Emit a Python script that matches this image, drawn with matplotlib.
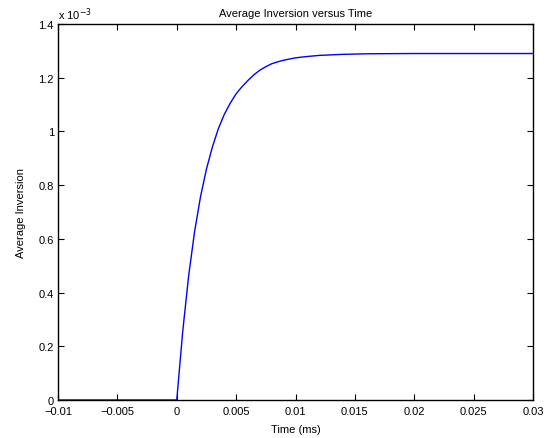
import numpy as np
import matplotlib.pyplot as plt
from matplotlib.ticker import FuncFormatter

# time axis in ms, inversion read in units of 1e-3
time_ms = [-0.01, 0.0, 0.0005, 0.001, 0.0015, 0.002, 0.0025, 0.003, 0.0035,
           0.004, 0.0045, 0.005, 0.0055, 0.006, 0.0065, 0.007, 0.0075, 0.008,
           0.0085, 0.009, 0.010, 0.011, 0.012, 0.013, 0.014, 0.016, 0.020,
           0.025, 0.030]
inv_e3 = [0, 0, 0.255, 0.462, 0.627, 0.757, 0.860, 0.942, 1.010,
          1.063, 1.105, 1.140, 1.167, 1.190, 1.211, 1.228, 1.241, 1.252,
          1.259, 1.265, 1.274, 1.279, 1.283, 1.285, 1.287, 1.289, 1.290,
          1.290, 1.290]

t = np.array(time_ms)
inversion = np.array(inv_e3) * 1e-3

plt.rcParams['font.family'] = ['Liberation Sans', 'DejaVu Sans']
plt.rcParams['font.size'] = 8

fig = plt.figure(figsize=(5.5, 4.39), dpi=100)
ax = fig.add_axes([0.1055, 0.0866, 0.8636, 0.8565])
ax.plot(t, inversion, color='#0000ff', lw=1.0)

ax.set_xlim(-0.01, 0.03)
ax.set_ylim(0, 1.4e-3)
ax.set_xticks(np.arange(-0.01, 0.0301, 0.005))
ax.set_yticks(np.arange(0, 1.41e-3, 0.2e-3))
ax.xaxis.set_major_formatter(FuncFormatter(lambda v, _: ('%g' % round(v, 4)).replace('-', '\u2212')))
ax.yaxis.set_major_formatter(FuncFormatter(lambda v, _: '%g' % round(v * 1e3, 2)))
ax.tick_params(direction='in', top=True, right=True, length=4, width=0.8,
               labelsize=8)
ax.tick_params(axis='x', pad=4)
ax.tick_params(axis='y', pad=3)
for s in ax.spines.values():
    s.set_linewidth(1.0)

ax.text(0, 1.005, r'x 10$^{-3}$', transform=ax.transAxes, fontsize=8,
        ha='left', va='bottom')
ax.set_title('Average Inversion versus Time', fontsize=8, pad=6)
ax.set_xlabel('Time (ms)', fontsize=8, labelpad=6)
ax.set_ylabel('Average Inversion', fontsize=8, labelpad=9)

fig.savefig('out.png', dpi=100)
